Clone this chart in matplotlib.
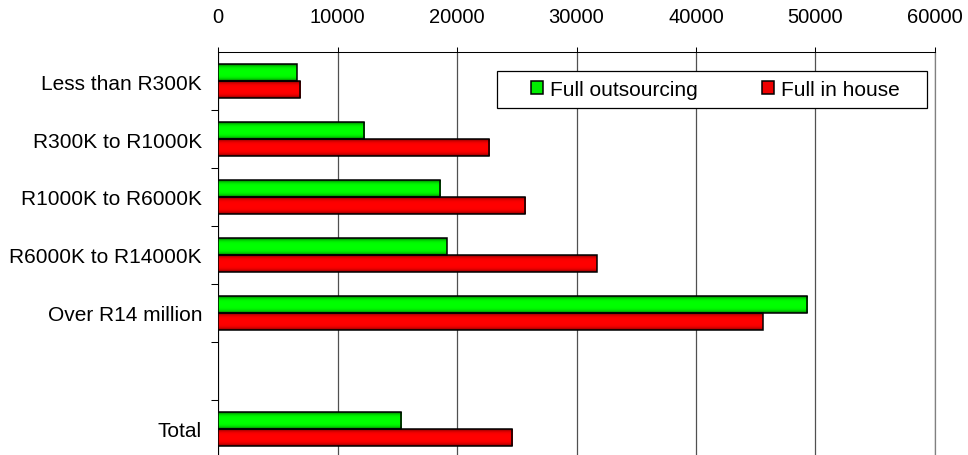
import numpy as np
import matplotlib
matplotlib.use('Agg')
from matplotlib import pyplot as plt
from matplotlib.patches import Rectangle
from matplotlib.colors import LinearSegmentedColormap

plt.rcParams['font.family'] = ['Liberation Sans', 'DejaVu Sans']

# turnover bands, with the overall total shown after a blank row
bands = ['Less than R300K', 'R300K to R1000K', 'R1000K to R6000K',
         'R6000K to R14000K', 'Over R14 million']
total_label = 'Total'
outsourcing = [6590, 12220, 18600, 19160, 49290]
in_house = [6890, 22700, 25720, 31690, 45580]
outsourcing_total = 15340
in_house_total = 24630
xticks = [0, 10000, 20000, 30000, 40000, 50000, 60000]

W, H = 968, 456
fig = plt.figure(figsize=(W / 100, H / 100), dpi=100)
ax = fig.add_axes([218 / W, (H - 459) / H, 717 / W, 406 / H])

labels = bands + [total_label]
pos = np.array(list(range(len(bands))) + [len(bands) + 1], dtype=float)
green_vals = outsourcing + [outsourcing_total]
red_vals = in_house + [in_house_total]

bh = 0.285
green = ax.barh(pos - bh / 2, green_vals, height=bh, color='#00ee00',
                edgecolor='black', linewidth=1.1, label='Full outsourcing',
                zorder=3)
red = ax.barh(pos + bh / 2, red_vals, height=bh, color='#ee0000',
              edgecolor='black', linewidth=1.1, label='Full in house',
              zorder=3)

# legend box
box = Rectangle((497 / W, 1 - 109 / H), 430 / W, 37 / H,
                transform=fig.transFigure, facecolor='white',
                edgecolor='black', linewidth=0.9, zorder=2)
fig.add_artist(box)
h, l = ax.get_legend_handles_labels()
fig.legend(h, l, loc='center left', bbox_to_anchor=(531 / W, 1 - 90.5 / H),
           ncol=2, frameon=False, fontsize=15, borderpad=0, borderaxespad=0,
           handlelength=0.58, handleheight=0.58, handletextpad=0.33,
           columnspacing=3.1)

# shaded fill inside each bar (dark rim, bright centre)
t = np.linspace(0, 1, 64)
shade = (1 - np.abs(2 * t - 1) ** 4).reshape(-1, 1)
cmaps = [LinearSegmentedColormap.from_list('g', ['#006000', '#00ff00']),
         LinearSegmentedColormap.from_list('r', ['#700000', '#ff0000'])]
for bars, cm in zip([green, red], cmaps):
    for p in bars.patches:
        x0, y0 = p.get_x(), p.get_y()
        im = ax.imshow(shade, cmap=cm, vmin=0, vmax=1, aspect='auto',
                       interpolation='bilinear', zorder=2.9,
                       extent=[x0, x0 + p.get_width(), y0, y0 + p.get_height()])
        im.set_clip_path(p)
        p.set_facecolor('none')

ax.set_xlim(0, 60000)
ax.set_ylim(len(bands) + 1.5, -0.5)

# x axis on top
ax.xaxis.tick_top()
ax.set_xticks(xticks)
ax.set_xticklabels([str(v) for v in xticks], fontsize=14.5)
ax.tick_params(axis='x', direction='out', length=3.6, width=0.75, pad=15)
ax.grid(axis='x', color='#505050', linewidth=0.9)
ax.set_axisbelow(True)

# boundary ticks between rows, labels at row centres
ax.set_yticks(np.arange(0.5, len(bands) + 1, 1.0))
ax.set_yticklabels([])
ax.tick_params(axis='y', which='major', direction='out', length=5, width=0.75)
ax.set_yticks(pos, minor=True)
ax.set_yticklabels(labels, minor=True, fontsize=15)
ax.tick_params(axis='y', which='minor', length=0, pad=11.5)

ax.spines['bottom'].set_visible(False)
ax.spines['right'].set_color('#808080')
ax.spines['right'].set_linewidth(0.9)
for s in ['top', 'left']:
    ax.spines[s].set_linewidth(0.75)
    ax.spines[s].set_color('black')

fig.savefig('out.png', dpi=100)
